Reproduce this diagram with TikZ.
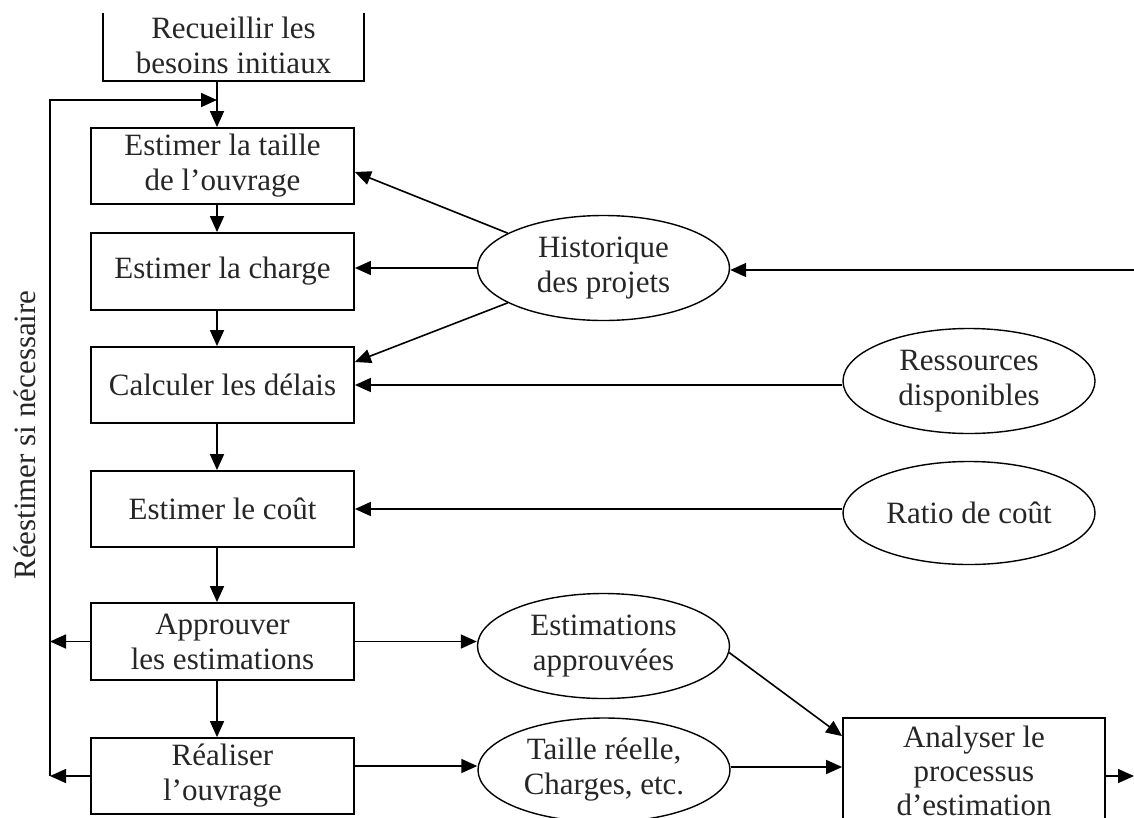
\documentclass[tikz,border=0pt]{standalone}
\usepackage{fontspec}
\setmainfont{Liberation Serif}
\usetikzlibrary{shapes.geometric,arrows.meta}
\begin{document}
\begin{tikzpicture}[x=1pt,y=-1pt,
  every node/.style={font=\fontsize{31}{35}\selectfont, text=black!85, align=center},
  stepbox/.style={draw, line width=1.8pt, rectangle, minimum width=263pt, minimum height=76pt, inner sep=0pt},
  datum/.style={draw, line width=1.4pt, ellipse, minimum width=252pt, minimum height=105pt, inner sep=0pt},
  flow/.style={line width=1.6pt, -{Triangle[length=16pt,width=14pt]}},
  wire/.style={line width=1.6pt}
]
\useasboundingbox (0,0) rectangle (1134,817);
\clip (0,0) rectangle (1134,817);

% process steps
\node[rectangle, minimum width=261pt, minimum height=72pt, inner sep=0pt] (b1) at (233.5,45) {Recueillir les\\besoins initiaux};
\draw[line width=1.8pt] ([yshift=-4pt]b1.north west) -- (b1.south west) -- (b1.south east) -- ([yshift=-4pt]b1.north east);
\node[stepbox] (b2) at (222.5,166) {Estimer la taille\\de l’ouvrage};
\node[stepbox, minimum height=77pt] (b3) at (222.5,271.5) {Estimer la charge};
\node[stepbox] (b4) at (222.5,385) {Calculer les délais};
\node[stepbox] (b5) at (222.5,509) {Estimer le coût};
\node[stepbox, minimum height=77pt] (b6) at (222.5,641.5) {Approuver\\les estimations};
\node[stepbox] (b7) at (222.5,776) {Réaliser\\l’ouvrage};
\node[stepbox, minimum width=262pt, minimum height=106pt,
      font=\fontsize{31}{34}\selectfont] (b8) at (974,771) {Analyser le\\processus\\d’estimation};

% data
\node[datum] (e1) at (603.5,268) {Historique\\des projets};
\node[datum] (e2) at (969,381) {Ressources\\disponibles};
\node[datum, minimum height=103pt] (e3) at (969,513) {Ratio de coût};
\node[datum] (e4) at (603.5,646) {Estimations\\approuvées};
\node[datum, minimum height=104pt] (e5) at (604,770) {Taille réelle,\\Charges, etc.};

% loop-back label
\node[rotate=90] (lbl) at (25,435) {Réestimer si nécessaire};

% helper coordinates
\coordinate (sp) at (217,0);
\coordinate (fb) at (50,100);
\coordinate (fbb) at (50,776);
\coordinate (hin) at (1134,270);
\coordinate (out) at (1134,776);

% main sequence
\draw[flow] (b1.south -| sp) -- (b2.north -| sp);
\draw[flow] (b2.south -| sp) -- (b3.north -| sp);
\draw[flow] (b3.south -| sp) -- (b4.north -| sp);
\draw[flow] (b4.south -| sp) -- (b5.north -| sp);
\draw[flow] (b5.south -| sp) -- (b6.north -| sp);
\draw[flow] (b6.south -| sp) -- (b7.north -| sp);

% re-estimation loop
\draw[flow] (fbb) -- (fb) -- (fb -| sp);
\draw[flow] (b6.west) -- (b6.west -| fb);
\draw[flow] (b7.west) -- (b7.west -| fb);

% inputs from the data
\draw[flow] (hin) -- (hin -| e1.east);
\draw[flow] (e1.160) -- ([yshift=-6pt]b2.east);
\draw[flow] (e1.west) -- (e1.west -| b3.east);
\draw[flow] (e1.200) -- ([yshift=23pt]b4.east);
\draw[flow] (e2.west |- b4.east) -- (b4.east);
\draw[flow] (e3.west |- b5.east) -- (b5.east);

% outputs
\draw[flow] (b6.east) -- (b6.east -| e4.west);
\draw[flow] ([yshift=10pt]b7.east) -- ([yshift=10pt]b7.east -| e5.west);
\draw[flow] (e4.-3) -- ([yshift=-19pt]b8.north west);
\draw[flow] ([yshift=3pt]e5.east) -- ([yshift=3pt]e5.east -| b8.west);
\draw[flow] (out -| b8.east) -- (out);
\end{tikzpicture}
\end{document}
